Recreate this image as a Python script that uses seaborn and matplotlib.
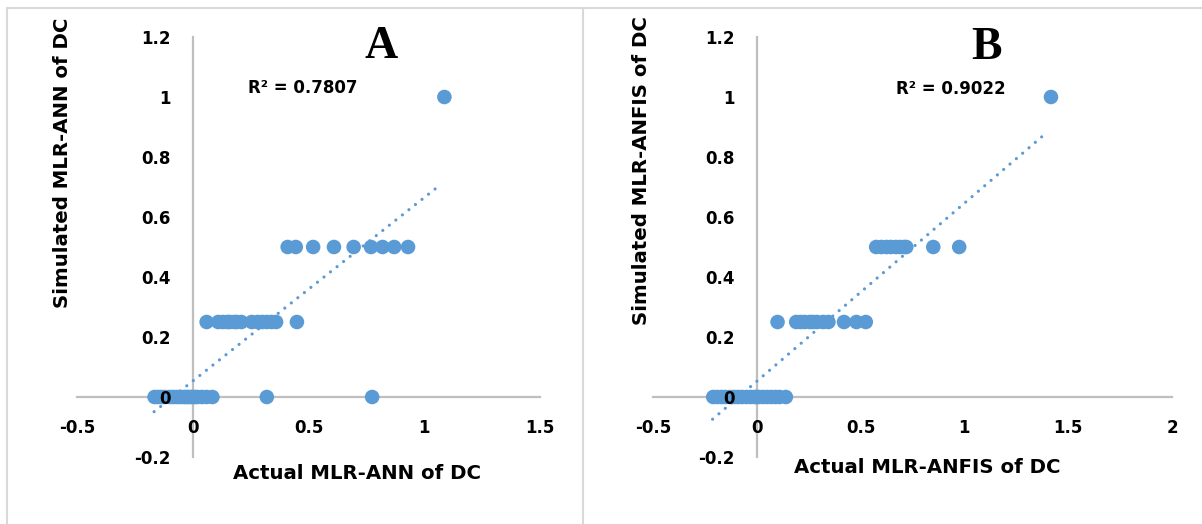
import matplotlib
matplotlib.use("Agg")
import matplotlib.pyplot as plt
import seaborn as sns
import numpy as np
import pandas as pd
from matplotlib.lines import Line2D

# ---------------- data ----------------
# Panel A: actual vs simulated MLR-ANN of DC
a_x0 = [-0.165, -0.15, -0.135, -0.12, -0.10, -0.085, -0.07, -0.055, -0.04, -0.03,
        -0.02, -0.01, 0.0, 0.01, 0.02, 0.04, 0.06, 0.085, 0.32, 0.775]
a_x25 = [0.06, 0.11, 0.13, 0.15, 0.16, 0.18, 0.19, 0.21, 0.255, 0.28, 0.30, 0.32,
         0.34, 0.36, 0.45]
a_x50 = [0.41, 0.445, 0.52, 0.61, 0.695, 0.77, 0.82, 0.87, 0.93]
a_x100 = [1.087]
trend_a_x = [-0.167, 1.069]
trend_a_y = [-0.049, 0.707]
r2_a = "R\u00b2 = 0.7807"

# Panel B: actual vs simulated MLR-ANFIS of DC
b_x0 = [-0.21, -0.19, -0.17, -0.15, -0.13, -0.11, -0.09, -0.07, -0.05, -0.03,
        -0.01, 0.0, 0.01, 0.03, 0.05, 0.07, 0.09, 0.11, 0.14]
b_x25 = [0.10, 0.19, 0.21, 0.23, 0.255, 0.27, 0.29, 0.32, 0.345, 0.42, 0.48, 0.525]
b_x50 = [0.575, 0.60, 0.625, 0.645, 0.67, 0.69, 0.71, 0.72, 0.85, 0.975]
b_x100 = [1.417]
trend_b_x = [-0.213, 1.389]
trend_b_y = [-0.074, 0.877]
r2_b = "R\u00b2 = 0.9022"

y_levels = [0.0, 0.25, 0.5, 1.0]
yticks = [-0.2, 0, 0.2, 0.4, 0.6, 0.8, 1, 1.2]
ytick_labels = ["-0.2", "0", "0.2", "0.4", "0.6", "0.8", "1", "1.2"]
a_xticks = [-0.5, 0, 0.5, 1, 1.5]
a_xtick_labels = ["-0.5", "0", "0.5", "1", "1.5"]
b_xticks = [-0.5, 0, 0.5, 1, 1.5, 2]
b_xtick_labels = ["-0.5", "0", "0.5", "1", "1.5", "2"]


def build(rows):
    xs, ys = [], []
    for xv, yv in zip(rows, y_levels):
        xs += list(xv)
        ys += [yv] * len(xv)
    return pd.DataFrame({"actual": xs, "simulated": ys})


df_a = build([a_x0, a_x25, a_x50, a_x100])
df_b = build([b_x0, b_x25, b_x50, b_x100])

# ---------------- style ----------------
sns.set_theme(style="white")
plt.rcParams["font.family"] = ["DejaVu Sans"]

BLUE = "#5B9BD5"
AXIS_GREY = "#BFBFBF"
FRAME_GREY = "#D9D9D9"

W, H = 1202, 524
fig = plt.figure(figsize=(W / 100, H / 100), dpi=100)
fig.patch.set_facecolor("white")


def px_axes(x0, x1, y0, y1):
    return fig.add_axes([x0 / W, 1 - y1 / H, (x1 - x0) / W, (y1 - y0) / H])


ax_a = px_axes(77, 540, 37, 457)
ax_b = px_axes(653, 1172, 37, 457)


def style_axes(ax, df, trx, try_, xlim, xticks, xlabels, xlabel, ylabel,
               xlab_pos, ylab_pos, r2, r2_pos, letter, letter_pos):
    sns.scatterplot(data=df, x="actual", y="simulated", ax=ax, color=BLUE,
                    s=110, edgecolor="none", linewidth=0, zorder=2)
    sns.lineplot(x=trx, y=try_, ax=ax, color=BLUE, lw=2.3,
                 linestyle=(0, (0.01, 2.6)), dash_capstyle="round", zorder=3)
    ax.set_xlim(*xlim)
    ax.set_ylim(-0.2, 1.2)
    for s in ["top", "right"]:
        ax.spines[s].set_visible(False)
    for s in ["left", "bottom"]:
        ax.spines[s].set_position(("data", 0))
        ax.spines[s].set_color(AXIS_GREY)
        ax.spines[s].set_linewidth(1.6)
        ax.spines[s].set_zorder(0.5)
    ax.set_xticks(xticks)
    ax.set_xticklabels(xlabels)
    ax.set_yticks(yticks)
    ax.set_yticklabels(ytick_labels)
    ax.tick_params(axis="x", length=0, pad=16, labelsize=12, labelcolor="black")
    ax.tick_params(axis="y", length=0, pad=16, labelsize=12, labelcolor="black")
    for lab in ax.get_xticklabels() + ax.get_yticklabels():
        lab.set_fontweight("bold")
    ax.xaxis.set_zorder(4)
    ax.yaxis.set_zorder(4)
    ax.set_facecolor("none")
    ax.set_xlabel(xlabel, fontsize=14.2, fontweight="bold", color="black",
                  va="center", ha="center")
    ax.xaxis.set_label_coords(*xlab_pos)
    ax.set_ylabel(ylabel, fontsize=14.2, fontweight="bold", color="black",
                  va="center", ha="center")
    ax.yaxis.set_label_coords(*ylab_pos)
    ax.text(r2_pos[0], r2_pos[1], r2, fontsize=12, fontweight="bold",
            ha="center", va="center", color="black")
    ax.text(letter_pos[0], letter_pos[1], letter, fontsize=33, fontweight="bold",
            family=["Liberation Serif", "DejaVu Serif"], ha="center", va="center",
            color="black")


style_axes(ax_a, df_a, trend_a_x, trend_a_y, (-0.5, 1.5), a_xticks, a_xtick_labels,
           "Actual MLR-ANN of DC", "Simulated MLR-ANN of DC",
           (0.605, -0.04), (-0.032, 0.70), r2_a, (0.476, 1.03), "A", (0.814, 1.165))
style_axes(ax_b, df_b, trend_b_x, trend_b_y, (-0.5, 2.0), b_xticks, b_xtick_labels,
           "Actual MLR-ANFIS of DC", "Simulated MLR-ANFIS of DC",
           (0.528, -0.026), (-0.023, 0.683), r2_b, (0.935, 1.028), "B", (1.106, 1.163))

# chart frames (light grey borders)
def fline(x0, y0, x1, y1):
    fig.add_artist(Line2D([x0 / W, x1 / W], [1 - y0 / H, 1 - y1 / H],
                          color=FRAME_GREY, lw=1.5, transform=fig.transFigure))

fline(7, 8, W, 8)
fline(7, 8, 7, H)
fline(583, 8, 583, H)

fig.savefig("out.png", dpi=100, facecolor="white")
